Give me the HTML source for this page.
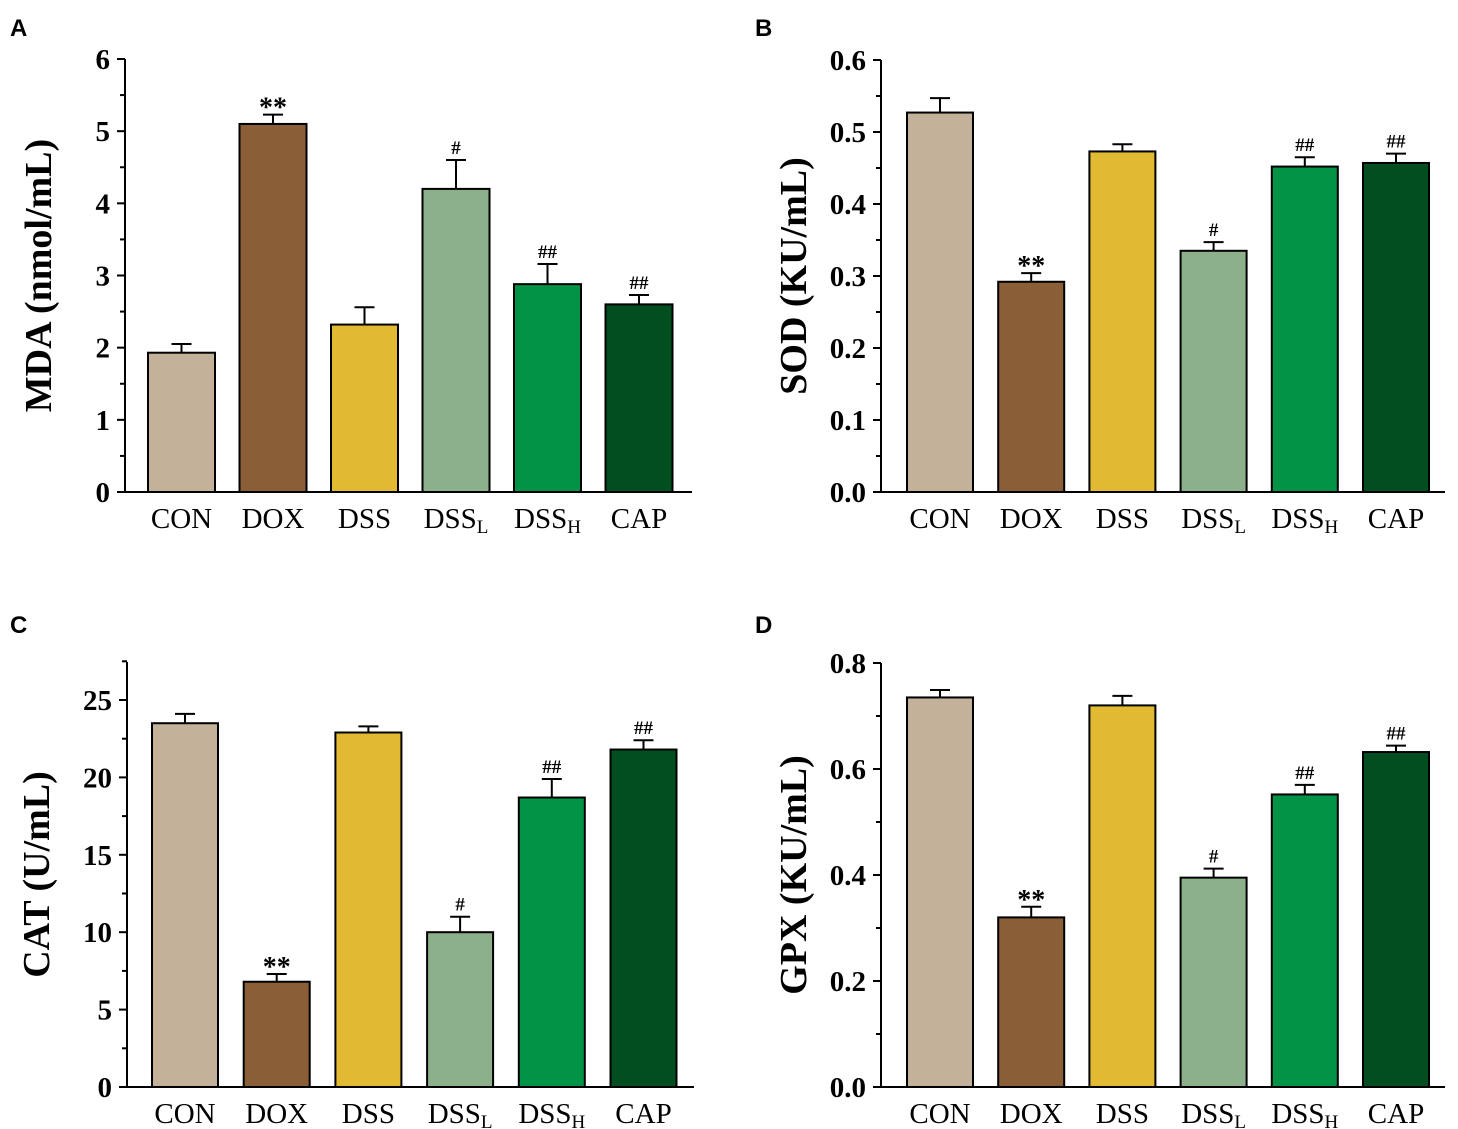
<!DOCTYPE html>
<html><head><meta charset="utf-8"><style>
body{margin:0;background:#fff;width:1458px;height:1129px;overflow:hidden}
svg{display:block}
text{font-family:"Liberation Serif",serif;fill:#000}
text.lt{font-family:"Liberation Sans",sans-serif}
</style></head><body>
<svg id="fig" width="1458" height="1129" viewBox="0 0 1458 1129" xmlns="http://www.w3.org/2000/svg"></svg>
<script>
const categories = ["CON","DOX","DSS","DSSL","DSSH","CAP"];
const colors = ["#c4b199","#8a5e37","#e2b932","#8bb08a","#039346","#034e21"];
const mdaValues = [1.93,5.1,2.32,4.2,2.88,2.6];
const mdaErrors = [0.12,0.13,0.24,0.4,0.28,0.13];
const mdaMarks = ["","**","","#","##","##"];
const mdaTicks = ["0","1","2","3","4","5","6"];
const sodValues = [0.527,0.292,0.473,0.335,0.452,0.457];
const sodErrors = [0.02,0.012,0.01,0.012,0.013,0.013];
const sodMarks = ["","**","","#","##","##"];
const sodTicks = ["0.0","0.1","0.2","0.3","0.4","0.5","0.6"];
const catValues = [23.5,6.8,22.9,10.0,18.7,21.8];
const catErrors = [0.6,0.5,0.4,1.0,1.2,0.6];
const catMarks = ["","**","","#","##","##"];
const catTicks = ["0","5","10","15","20","25"];
const gpxValues = [0.735,0.32,0.72,0.395,0.552,0.632];
const gpxErrors = [0.014,0.02,0.018,0.017,0.018,0.012];
const gpxMarks = ["","**","","#","##","##"];
const gpxTicks = ["0.0","0.2","0.4","0.6","0.8"];

const NS="http://www.w3.org/2000/svg";
const svg=document.getElementById('fig');
function mk(tag,attrs,parent){const e=document.createElementNS(NS,tag);for(const k in attrs)e.setAttribute(k,attrs[k]);(parent||svg).appendChild(e);return e;}

function panel(cfg){
  const g=mk('g',{});
  
  
  const ax=cfg.ax, y0=cfg.y0, yTop=cfg.yTop, axTop=cfg.axTop;
  const ymax=cfg.ymax;
  const y=v=>y0-(v/ymax)*(y0-yTop);
  const step=cfg.step, x0=cfg.x0, bw=cfg.bw;
  const xb=i=>x0+i*step;
  const L=mk('text',{x:cfg.lx,y:cfg.ly,'class':'lt','font-weight':'bold','font-size':24},g);
  L.textContent=cfg.letter;
  
  
  cfg.values.forEach((v,i)=>{
    const top=y(v+cfg.errors[i]);
    const cx=xb(i)+bw/2;
    const e1=mk('line',{x1:cx,x2:cx,y1:y(v),y2:top,stroke:'#000','stroke-width':2},g);
    
    
    mk('line',{x1:cx-10,x2:cx+10,y1:top,y2:top,stroke:'#000','stroke-width':2},g);
    const r=mk('rect',{x:xb(i),y:y(v),width:bw,height:y0-y(v),fill:colors[i],stroke:'#000','stroke-width':2},g);
    
    
    if(cfg.marks[i]){
      const star=cfg.marks[i]==="**";
      const t=mk('text',{x:cx,y:top-(star?-2:6),'text-anchor':'middle','font-weight':'bold','font-size':star?28:19},g);
      t.textContent=cfg.marks[i];
      
      
    }
    const lab=mk('text',{x:cx,y:y0+36,'text-anchor':'middle','font-size':29},g);
    
    
    const c=categories[i];
    if(c==="DSSL"||c==="DSSH"){
      lab.textContent="DSS";
      const s=mk('tspan',{'font-size':19,dy:5},lab);s.textContent=c[3];
    } else lab.textContent=c;
  });
  const a1=mk('line',{x1:ax,x2:ax,y1:axTop,y2:y0+1,stroke:'#000','stroke-width':2},g);
  
  
  const a2=mk('line',{x1:ax-8,x2:cfg.axEnd,y1:y0,y2:y0,stroke:'#000','stroke-width':2},g);
  
  
  cfg.ticks.forEach((tl,i)=>{
    const v=parseFloat(tl), yy=y(v);
    mk('line',{x1:ax-8,x2:ax,y1:yy,y2:yy,stroke:'#000','stroke-width':2},g);
    const half=v+cfg.tickStep/2;
    if(y(half)>=axTop-1) mk('line',{x1:ax-5,x2:ax,y1:y(half),y2:y(half),stroke:'#000','stroke-width':2},g);
    const t=mk('text',{x:ax-15,y:yy+10,'text-anchor':'end','font-size':29,'font-weight':'bold'},g);
    t.textContent=tl;
    
    
  });
  const cy=(y0+axTop)/2;
  const tt=mk('text',{x:cfg.tx,y:cy,'text-anchor':'middle','font-size':38,'font-weight':'bold',transform:`rotate(-90 ${cfg.tx} ${cy})`},g);
  tt.textContent=cfg.title;
  
  
}
panel({name:'mda',letter:'A',lx:10,ly:36,ax:125,y0:492,yTop:59,axTop:59,ymax:6,tickStep:1,step:91.5,x0:148,bw:67,axEnd:692,values:mdaValues,errors:mdaErrors,marks:mdaMarks,ticks:mdaTicks,title:'MDA (nmol/mL)',tx:51});
panel({name:'sod',letter:'B',lx:755,ly:36,ax:881,y0:492,yTop:60,axTop:60,ymax:0.6,tickStep:0.1,step:91.2,x0:907,bw:66,axEnd:1445,values:sodValues,errors:sodErrors,marks:sodMarks,ticks:sodTicks,title:'SOD (KU/mL)',tx:806});
panel({name:'cat',letter:'C',lx:10,ly:633,ax:127,y0:1087,yTop:700,axTop:662,ymax:25,tickStep:5,step:91.7,x0:152,bw:66,axEnd:694,values:catValues,errors:catErrors,marks:catMarks,ticks:catTicks,title:'CAT (U/mL)',tx:49});
panel({name:'gpx',letter:'D',lx:755,ly:633,ax:881,y0:1087,yTop:663,axTop:663,ymax:0.8,tickStep:0.2,step:91.2,x0:907,bw:66,axEnd:1445,values:gpxValues,errors:gpxErrors,marks:gpxMarks,ticks:gpxTicks,title:'GPX (KU/mL)',tx:806});
</script>
</body></html>
